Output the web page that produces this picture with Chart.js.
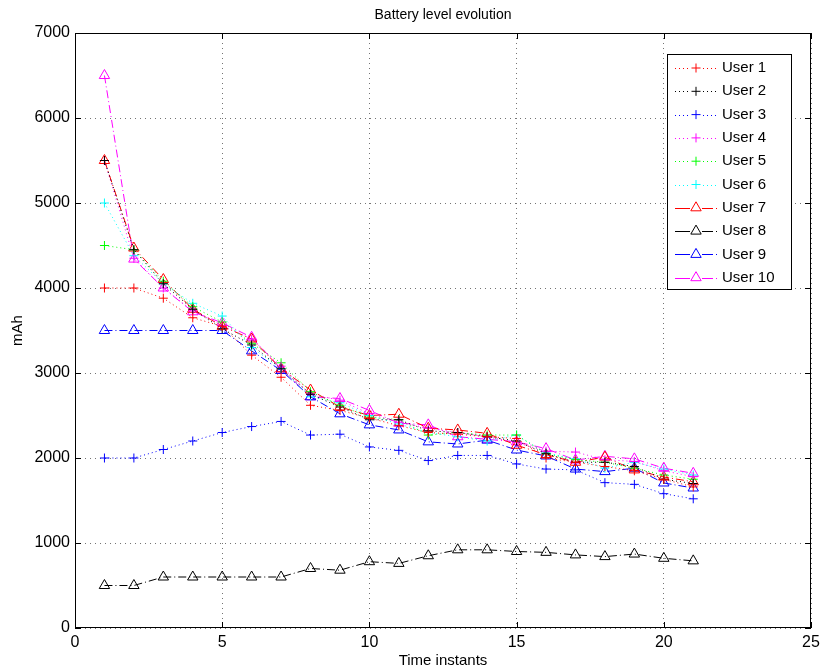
<!DOCTYPE html>
<html>
<head>
<meta charset="utf-8">
<script src="https://cdn.jsdelivr.net/npm/chart.js@4/dist/chart.umd.min.js"></script>
<style>
  html, body { margin: 0; padding: 0; background: #fff; }
  #wrap { width: 821px; height: 671px; }
</style>
</head>
<body>
<div id="wrap"><canvas id="chartbattery" width="821" height="671"></canvas></div>
<script>
// time instants 1..21
var timeInstants = [1, 2, 3, 4, 5, 6, 7, 8, 9, 10, 11, 12, 13, 14, 15, 16, 17, 18, 19, 20, 21];

var user1 = [4000, 4000, 3880, 3650, 3550, 3210, 2950, 2620, 2560, 2470, 2380, 2300, 2280, 2250, 2230, 2000, 1950, 1900, 1850, 1750, 1660];
var user2 = [5500, 4450, 4050, 3750, 3520, 3330, 3050, 2750, 2600, 2450, 2450, 2320, 2300, 2250, 2200, 2050, 1950, 1950, 1900, 1750, 1700];
var user3 = [2000, 2000, 2100, 2200, 2300, 2370, 2430, 2270, 2280, 2130, 2090, 1970, 2030, 2030, 1930, 1870, 1860, 1710, 1690, 1580, 1520];
var user4 = [5500, 4350, 4000, 3730, 3560, 3400, 3080, 2750, 2680, 2520, 2420, 2350, 2300, 2250, 2180, 2080, 2070, 1980, 1960, 1850, 1780];
var user5 = [4500, 4450, 4080, 3780, 3600, 3350, 3120, 2780, 2620, 2480, 2450, 2270, 2300, 2270, 2270, 2050, 1980, 1950, 1880, 1800, 1750];
var user6 = [5000, 4380, 4050, 3820, 3670, 3300, 3050, 2720, 2650, 2500, 2400, 2300, 2250, 2200, 2270, 2060, 1990, 1880, 1950, 1870, 1800];
var user7 = [5500, 4470, 4100, 3750, 3550, 3400, 3050, 2800, 2600, 2500, 2515, 2350, 2330, 2290, 2150, 2040, 1950, 2010, 1860, 1776, 1720];
var user8 = [500, 500, 600, 600, 600, 600, 600, 700, 680, 780, 760, 850, 920, 920, 900, 890, 860, 840, 870, 820, 790];
var user9 = [3500, 3500, 3500, 3500, 3500, 3260, 3030, 2720, 2520, 2390, 2330, 2190, 2165, 2210, 2094, 2024, 1870, 1840, 1880, 1706, 1647];
var user10 = [6500, 4340, 4000, 3720, 3590, 3420, 3047, 2720, 2700, 2560, 2410, 2390, 2250, 2220, 2190, 2110, 1976, 2020, 1990, 1880, 1820];

var userNames = ['User 1', 'User 2', 'User 3', 'User 4', 'User 5', 'User 6', 'User 7', 'User 8', 'User 9', 'User 10'];
var userColors = ['#ff0000', '#000000', '#0000ff', '#ff00ff', '#00ff00', '#00ffff', '#ff0000', '#000000', '#0000ff', '#ff00ff'];
var userValues = [user1, user2, user3, user4, user5, user6, user7, user8, user9, user10];

var xTicks = [0, 5, 10, 15, 20, 25];
var yTicks = [0, 1000, 2000, 3000, 4000, 5000, 6000, 7000];

var FONT = '"Liberation Sans", Arial, Helvetica, sans-serif';

var datasets = [];
for (var i = 0; i < userValues.length; i++) {
    var pts = [];
    for (var j = 0; j < timeInstants.length; j++) {
        pts.push({ x: timeInstants[j], y: userValues[i][j] });
    }
    var tri = i >= 6;
    datasets.push({
        label: userNames[i],
        data: pts,
        borderColor: userColors[i],
        backgroundColor: userColors[i],
        borderWidth: 1,
        borderDash: tri ? [8, 3, 1, 3] : [1, 3],
        pointStyle: tri ? 'triangle' : 'cross',
        pointRadius: tri ? 6 : 4.5,
        pointBorderWidth: 1,
        pointBorderColor: userColors[i],
        pointBackgroundColor: 'rgba(0,0,0,0)',
        tension: 0,
        fill: false
    });
}

// 박스, 안쪽 눈금, 제목, 축 이름, 범례
var decoPlugin = {
    id: 'deco',
    afterDraw: function (chart) {
        var ctx = chart.ctx;
        var a = chart.chartArea;
        var sx = chart.scales.x, sy = chart.scales.y;
        ctx.save();
        ctx.strokeStyle = '#000';
        ctx.lineWidth = 1;
        ctx.setLineDash([]);
        ctx.strokeRect(Math.round(a.left) + 0.5, Math.round(a.top) + 0.5,
            Math.round(a.right - a.left) - 1, Math.round(a.bottom - a.top) - 1);

        ctx.beginPath();
        for (var k = 0; k < xTicks.length; k++) {
            var px = Math.round(sx.getPixelForValue(xTicks[k])) + 0.5;
            ctx.moveTo(px, a.bottom); ctx.lineTo(px, a.bottom - 6);
            ctx.moveTo(px, a.top); ctx.lineTo(px, a.top + 6);
        }
        for (var k = 0; k < yTicks.length; k++) {
            var py = Math.round(sy.getPixelForValue(yTicks[k])) + 0.5;
            ctx.moveTo(a.left, py); ctx.lineTo(a.left + 6, py);
            ctx.moveTo(a.right, py); ctx.lineTo(a.right - 6, py);
        }
        ctx.stroke();

        ctx.fillStyle = '#000';
        ctx.textAlign = 'center';
        ctx.textBaseline = 'middle';
        ctx.font = '14px ' + FONT;
        ctx.fillText('Battery level evolution', (a.left + a.right) / 2, 15);
        ctx.font = '15px ' + FONT;
        ctx.fillText('Time instants', (a.left + a.right) / 2, 661);
        ctx.save();
        ctx.translate(18, (a.top + a.bottom) / 2);
        ctx.rotate(-Math.PI / 2);
        ctx.fillText('mAh', 0, 0);
        ctx.restore();

        // 범례
        var lx = 667, ly = 54, lw = 124, lh = 235;
        ctx.fillStyle = '#fff';
        ctx.fillRect(lx, ly, lw, lh);
        ctx.strokeStyle = '#000';
        ctx.strokeRect(lx + 0.5, ly + 0.5, lw, lh);
        ctx.font = '15px ' + FONT;
        ctx.textAlign = 'left';
        for (var d = 0; d < chart.data.datasets.length; d++) {
            var ds = chart.data.datasets[d];
            var cy = 68 + d * 23.3;
            ctx.strokeStyle = ds.borderColor;
            ctx.lineWidth = 1;
            ctx.setLineDash(ds.borderDash);
            ctx.beginPath();
            ctx.moveTo(675, Math.round(cy) + 0.5);
            ctx.lineTo(717, Math.round(cy) + 0.5);
            ctx.stroke();
            ctx.setLineDash([]);
            ctx.fillStyle = '#fff';
            ctx.fillRect(689, cy - 6, 14, 12);
            ctx.fillStyle = 'rgba(0,0,0,0)';
            ctx.strokeStyle = ds.borderColor;
            Chart.helpers.drawPoint(ctx, {
                pointStyle: ds.pointStyle,
                radius: ds.pointRadius,
                borderWidth: 1,
                rotation: 0
            }, 696, cy);
            if (ds.pointStyle === 'triangle') {
                ctx.beginPath();
                ctx.moveTo(682, Math.round(cy) + 0.5); ctx.lineTo(690, Math.round(cy) + 0.5);
                ctx.moveTo(702, Math.round(cy) + 0.5); ctx.lineTo(710, Math.round(cy) + 0.5);
                ctx.stroke();
            }
            ctx.fillStyle = '#000';
            ctx.fillText(ds.label, 722, cy);
        }
        ctx.restore();
    }
};

var chartArea = document.getElementById('chartbattery').getContext('2d');

var chartbattery = new Chart(chartArea, {
    type: 'line',
    data: { datasets: datasets },
    options: {
        responsive: false,
        animation: false,
        layout: { padding: { left: 0, right: 10, top: 33, bottom: 0 } },
        plugins: {
            legend: { display: false },
            title: { display: false },
            tooltip: { enabled: false }
        },
        scales: {
            x: {
                type: 'linear',
                min: 0,
                max: 25,
                afterFit: function (scale) {
                    scale.height = 43;
                    scale.paddingLeft = 0;
                    scale.paddingRight = 0;
                },
                afterBuildTicks: function (scale) {
                    scale.ticks = xTicks.map(function (v) { return { value: v }; });
                },
                ticks: {
                    color: '#000',
                    font: { family: FONT, size: 16 },
                    padding: 5,
                    maxRotation: 0,
                    callback: function (v) { return String(v); }
                },
                grid: { color: 'rgba(0,0,0,0.55)', drawTicks: false, lineWidth: 1 },
                border: { display: false, dash: [1, 4] }
            },
            y: {
                type: 'linear',
                min: 0,
                max: 7000,
                afterFit: function (scale) {
                    scale.width = 75;
                    scale.paddingTop = 0;
                    scale.paddingBottom = 0;
                },
                afterBuildTicks: function (scale) {
                    scale.ticks = yTicks.map(function (v) { return { value: v }; });
                },
                ticks: {
                    color: '#000',
                    font: { family: FONT, size: 16 },
                    padding: 5,
                    callback: function (v) { return String(v); }
                },
                grid: { color: 'rgba(0,0,0,0.55)', drawTicks: false, lineWidth: 1 },
                border: { display: false, dash: [1, 4] }
            }
        }
    },
    plugins: [decoPlugin]
});
</script>
</body>
</html>
